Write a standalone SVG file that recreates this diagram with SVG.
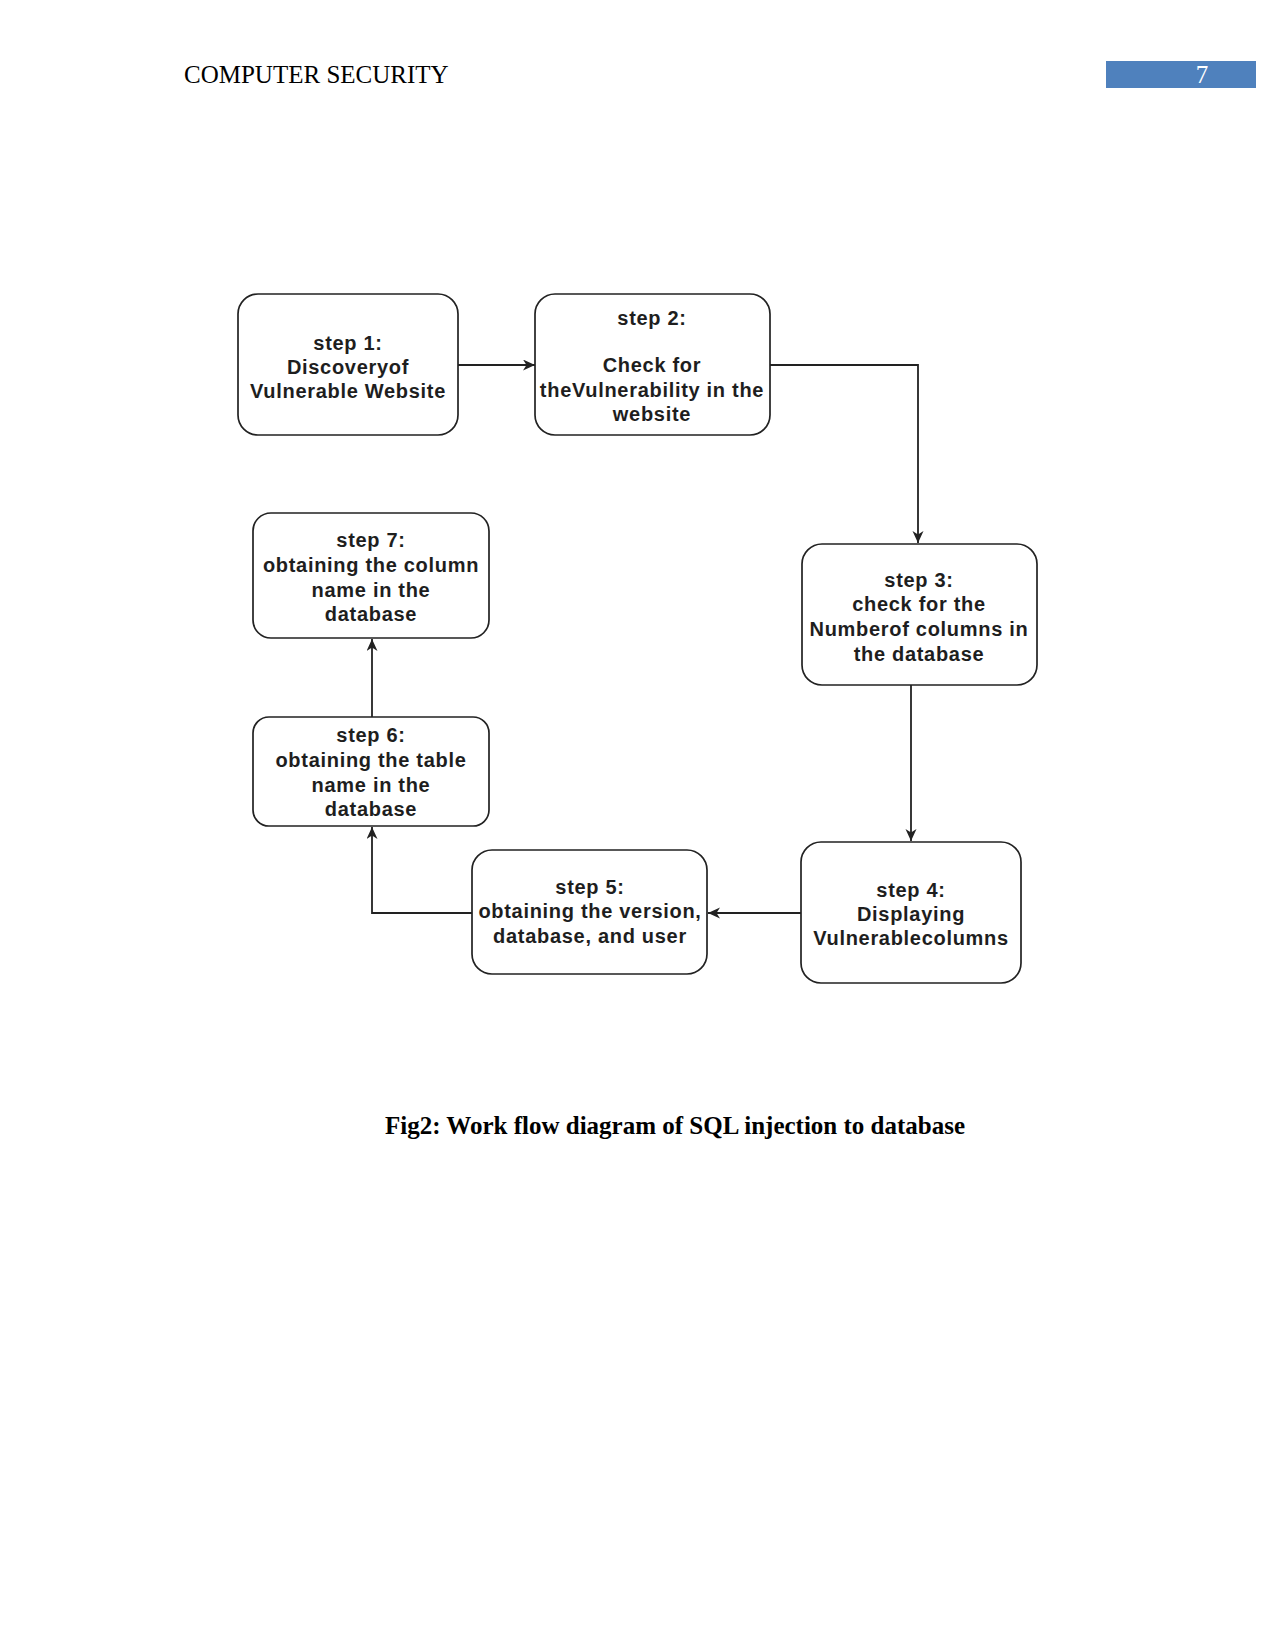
<svg xmlns="http://www.w3.org/2000/svg" width="1275" height="1651" viewBox="0 0 1275 1651">
<style>
.box{fill:#ffffff;stroke:#222222;stroke-width:1.7}
.lbl{font-family:"Liberation Sans",Arial,sans-serif;font-weight:bold;font-size:20px;letter-spacing:0.7px;fill:#1e1e1e;text-anchor:middle}
.conn{fill:none;stroke:#222222;stroke-width:1.8}
.hdr{font-family:"Liberation Serif","Times New Roman",serif;font-size:25px;fill:#000000}
</style>
<defs>
<marker id="arr" markerUnits="userSpaceOnUse" markerWidth="14" markerHeight="12" refX="12" refY="5.5" orient="auto">
<path d="M0,0 L12,5.5 L0,11 L3.5,5.5 z" fill="#222222"/>
</marker>
</defs>
<rect width="1275" height="1651" fill="#ffffff"/>
<g id="header">
<text class="hdr" x="184" y="83">COMPUTER SECURITY</text>
<rect x="1106" y="61" width="150" height="27" fill="#4f81bd"/>
<text class="hdr" x="1202" y="83" style="fill:#ffffff" text-anchor="middle">7</text>
</g>
<g id="connectors">
<path class="conn" d="M458 365 H535" marker-end="url(#arr)"/>
<path class="conn" d="M770 365 H918 V543" marker-end="url(#arr)"/>
<path class="conn" d="M911 685 V841" marker-end="url(#arr)"/>
<path class="conn" d="M801 913 H708" marker-end="url(#arr)"/>
<path class="conn" d="M472 913 H372 V827" marker-end="url(#arr)"/>
<path class="conn" d="M372 717 V639" marker-end="url(#arr)"/>
</g>
<g id="step1">
<rect class="box" x="238" y="294" width="220" height="141" rx="20"/>
<text class="lbl" x="348" y="350">step 1:</text>
<text class="lbl" x="348" y="374">Discoveryof</text>
<text class="lbl" x="348" y="398">Vulnerable Website</text>
</g>
<g id="step2">
<rect class="box" x="535" y="294" width="235" height="141" rx="20"/>
<text class="lbl" x="652" y="325">step 2:</text>
<text class="lbl" x="652" y="372">Check for</text>
<text class="lbl" x="652" y="397">theVulnerability in the</text>
<text class="lbl" x="652" y="421">website</text>
</g>
<g id="step3">
<rect class="box" x="802" y="544" width="235" height="141" rx="20"/>
<text class="lbl" x="919" y="587">step 3:</text>
<text class="lbl" x="919" y="611">check for the</text>
<text class="lbl" x="919" y="636">Numberof columns in</text>
<text class="lbl" x="919" y="661">the database</text>
</g>
<g id="step4">
<rect class="box" x="801" y="842" width="220" height="141" rx="20"/>
<text class="lbl" x="911" y="897">step 4:</text>
<text class="lbl" x="911" y="921">Displaying</text>
<text class="lbl" x="911" y="945">Vulnerablecolumns</text>
</g>
<g id="step5">
<rect class="box" x="472" y="850" width="235" height="124" rx="20"/>
<text class="lbl" x="590" y="894">step 5:</text>
<text class="lbl" x="590" y="918">obtaining the version,</text>
<text class="lbl" x="590" y="943">database, and user</text>
</g>
<g id="step6">
<rect class="box" x="253" y="717" width="236" height="109" rx="16"/>
<text class="lbl" x="371" y="742">step 6:</text>
<text class="lbl" x="371" y="767">obtaining the table</text>
<text class="lbl" x="371" y="792">name in the</text>
<text class="lbl" x="371" y="816">database</text>
</g>
<g id="step7">
<rect class="box" x="253" y="513" width="236" height="125" rx="18"/>
<text class="lbl" x="371" y="547">step 7:</text>
<text class="lbl" x="371" y="572">obtaining the column</text>
<text class="lbl" x="371" y="597">name in the</text>
<text class="lbl" x="371" y="621">database</text>
</g>
<g id="caption">
<text x="675" y="1134" text-anchor="middle" style="font-family:'Liberation Serif','Times New Roman',serif;font-size:25px;font-weight:bold;fill:#000000">Fig2: Work flow diagram of SQL injection to database</text>
</g>
</svg>
